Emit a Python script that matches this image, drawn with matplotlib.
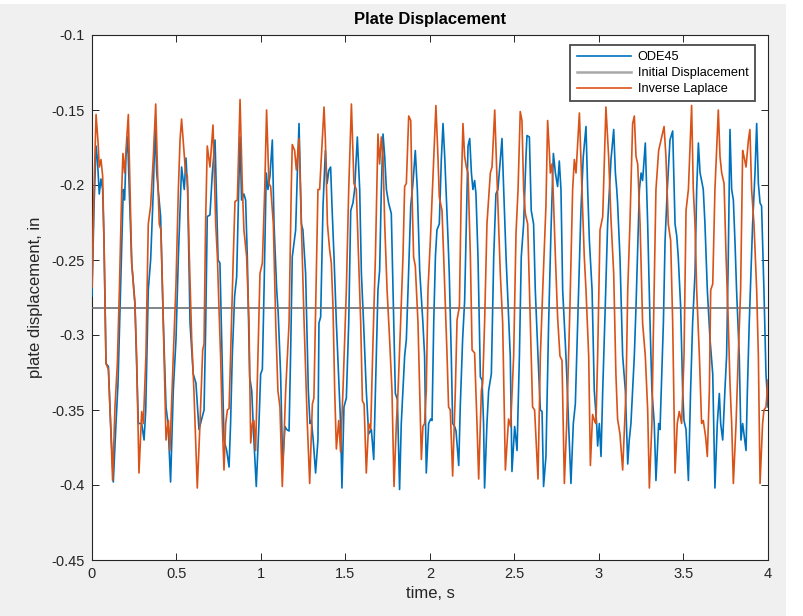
import matplotlib
matplotlib.use("Agg")
import matplotlib.pyplot as plt
from matplotlib.lines import Line2D
from matplotlib.patches import Rectangle

plt.rcParams['font.family'] = ['Liberation Sans', 'DejaVu Sans']

# ---------------- data ----------------
t_ode45 = [
    0.000, 0.012, 0.024, 0.032, 0.043, 0.053, 0.063, 0.071, 0.083, 0.097, 0.110, 0.126, 0.142, 0.154,
    0.166, 0.176, 0.185, 0.193, 0.201, 0.211, 0.221, 0.235, 0.254, 0.274, 0.294, 0.308, 0.318, 0.333,
    0.347, 0.363, 0.373, 0.383, 0.406, 0.422, 0.438, 0.450, 0.465, 0.481, 0.497, 0.511, 0.530, 0.546,
    0.556, 0.566, 0.580, 0.599, 0.615, 0.633,
    0.663, 0.673, 0.682, 0.698, 0.712, 0.728, 0.738, 0.746, 0.757, 0.765, 0.781, 0.797, 0.811, 0.820,
    0.830, 0.844, 0.856, 0.868, 0.876, 0.885, 0.899, 0.909, 0.919, 0.933, 0.945, 0.958, 0.972, 0.988,
    0.998, 1.008, 1.018, 1.031, 1.041, 1.053, 1.067, 1.077, 1.093, 1.102, 1.116, 1.128, 1.142, 1.152,
    1.166, 1.175, 1.185, 1.205, 1.215, 1.225, 1.239, 1.248, 1.264, 1.280, 1.290, 1.298, 1.309, 1.323,
    1.337, 1.343, 1.353, 1.367, 1.381, 1.391, 1.402, 1.412, 1.420, 1.432, 1.446, 1.456, 1.471, 1.479,
    1.491, 1.505, 1.519, 1.531, 1.544, 1.554, 1.570, 1.584, 1.594, 1.607, 1.623, 1.637, 1.653, 1.667,
    1.677, 1.692, 1.702, 1.712, 1.722, 1.732, 1.742, 1.755, 1.771, 1.781, 1.795, 1.807, 1.820, 1.830,
    1.850, 1.860, 1.870, 1.886, 1.899, 1.913, 1.925, 1.939, 1.958, 1.968, 1.978, 1.992, 2.004,
    2.012, 2.022, 2.032, 2.041, 2.055, 2.067, 2.077, 2.087, 2.095, 2.107, 2.114, 2.126, 2.134, 2.146,
    2.154, 2.170, 2.179, 2.193, 2.205, 2.215, 2.225, 2.235, 2.245, 2.254, 2.264, 2.272, 2.284, 2.298,
    2.308, 2.317, 2.323, 2.337, 2.347, 2.363, 2.377, 2.390, 2.402, 2.426, 2.436, 2.450, 2.461, 2.475,
    2.485, 2.501, 2.515, 2.529, 2.540, 2.554, 2.568, 2.574, 2.588, 2.599, 2.613, 2.623, 2.639, 2.653,
    2.663, 2.672, 2.686,
    2.702, 2.716, 2.730, 2.742, 2.755, 2.765, 2.775, 2.785, 2.801, 2.809, 2.820, 2.834, 2.848, 2.860,
    2.874, 2.893, 2.907, 2.923, 2.933, 2.943, 2.959, 2.972, 2.986, 2.992, 3.002, 3.012, 3.022, 3.037,
    3.051, 3.071, 3.087, 3.097, 3.105, 3.110, 3.124, 3.140, 3.156, 3.170, 3.179, 3.189, 3.199, 3.209,
    3.219, 3.239, 3.249, 3.258, 3.274, 3.288, 3.302, 3.313, 3.327, 3.337, 3.353,
    3.361, 3.381, 3.391, 3.404, 3.420, 3.436, 3.450, 3.460, 3.469, 3.483, 3.495, 3.503, 3.515, 3.529,
    3.542, 3.554, 3.568, 3.578, 3.588, 3.598, 3.607, 3.617, 3.627, 3.641, 3.657, 3.673, 3.686, 3.700,
    3.712, 3.720, 3.732, 3.745, 3.755, 3.765, 3.775, 3.785, 3.795, 3.805, 3.814, 3.830, 3.840, 3.850,
    3.858, 3.870, 3.878, 3.889, 3.909, 3.923, 3.933, 3.943, 3.953, 3.962, 3.976, 3.988, 4.000,
]
y_ode45 = [
    -0.274, -0.214, -0.174, -0.183, -0.206, -0.196, -0.203, -0.237, -0.319, -0.321, -0.359, -0.398, -0.359, -0.332,
    -0.281, -0.237, -0.203, -0.210, -0.181, -0.168, -0.205, -0.252, -0.279, -0.359, -0.359, -0.370, -0.350, -0.270,
    -0.250, -0.203, -0.161, -0.192, -0.221, -0.292, -0.348, -0.359, -0.398, -0.337, -0.303, -0.248, -0.188, -0.203,
    -0.182, -0.203, -0.292, -0.326, -0.332, -0.363,
    -0.350, -0.292, -0.221, -0.220, -0.192, -0.170, -0.214, -0.250, -0.252, -0.292, -0.370, -0.377, -0.388, -0.359,
    -0.314, -0.274, -0.261, -0.203, -0.168, -0.210, -0.206, -0.210, -0.248, -0.328, -0.337, -0.370, -0.401, -0.359,
    -0.326, -0.323, -0.270, -0.192, -0.203, -0.194, -0.170, -0.226, -0.270, -0.286, -0.326, -0.386, -0.361, -0.363,
    -0.364, -0.314, -0.248, -0.230, -0.192, -0.159, -0.226, -0.230, -0.259, -0.337, -0.359, -0.357, -0.370, -0.392,
    -0.370, -0.292, -0.288, -0.214, -0.177, -0.199, -0.190, -0.188, -0.214, -0.248, -0.292, -0.319, -0.359, -0.402,
    -0.348, -0.342, -0.292, -0.217, -0.212, -0.203, -0.168, -0.203, -0.259, -0.292, -0.337, -0.366, -0.363, -0.383,
    -0.337, -0.270, -0.257, -0.203, -0.166, -0.181, -0.203, -0.212, -0.219, -0.270, -0.339, -0.343, -0.403, -0.359,
    -0.314, -0.303, -0.270, -0.214, -0.199, -0.177, -0.203, -0.257, -0.292, -0.314, -0.392, -0.359, -0.356,
    -0.357, -0.292, -0.248, -0.230, -0.226, -0.183, -0.159, -0.181, -0.203, -0.237, -0.259, -0.314, -0.359, -0.361,
    -0.364, -0.387, -0.348, -0.303, -0.277, -0.226, -0.174, -0.169, -0.192, -0.203, -0.197, -0.206, -0.248, -0.328,
    -0.330, -0.359, -0.402, -0.359, -0.337, -0.326, -0.248, -0.206, -0.203, -0.169, -0.203, -0.248, -0.277, -0.314,
    -0.391, -0.361, -0.377, -0.314, -0.248, -0.226, -0.181, -0.167, -0.168, -0.217, -0.226, -0.270, -0.314, -0.350,
    -0.351, -0.401, -0.381,
    -0.292, -0.230, -0.179, -0.192, -0.201, -0.184, -0.203, -0.270, -0.306, -0.326, -0.359, -0.399, -0.359, -0.346,
    -0.292, -0.217, -0.181, -0.161, -0.203, -0.237, -0.270, -0.337, -0.359, -0.374, -0.359, -0.381, -0.337, -0.281,
    -0.226, -0.183, -0.163, -0.192, -0.203, -0.212, -0.248, -0.314, -0.337, -0.386, -0.370, -0.359, -0.337, -0.314,
    -0.281, -0.203, -0.192, -0.197, -0.172, -0.226, -0.292, -0.337, -0.359, -0.397, -0.359,
    -0.363, -0.292, -0.237, -0.203, -0.170, -0.164, -0.226, -0.234, -0.248, -0.281, -0.337, -0.357, -0.363, -0.397,
    -0.337, -0.292, -0.259, -0.203, -0.172, -0.192, -0.197, -0.203, -0.226, -0.270, -0.303, -0.326, -0.402, -0.359,
    -0.339, -0.359, -0.370, -0.337, -0.314, -0.248, -0.163, -0.203, -0.210, -0.239, -0.270, -0.314, -0.370, -0.359,
    -0.366, -0.377, -0.337, -0.292, -0.226, -0.192, -0.159, -0.199, -0.212, -0.214, -0.270, -0.326, -0.348,
]

t_laplace = [
    0.000, 0.012, 0.024, 0.036, 0.043, 0.053, 0.063, 0.071, 0.083, 0.097, 0.110, 0.122, 0.136, 0.150,
    0.162, 0.176, 0.183, 0.193, 0.205, 0.215, 0.225, 0.235, 0.254, 0.264, 0.278, 0.294, 0.304, 0.319,
    0.333, 0.347, 0.363, 0.377, 0.388, 0.398, 0.408, 0.422, 0.438, 0.452, 0.461, 0.481, 0.497, 0.511,
    0.521, 0.530, 0.544, 0.554, 0.564, 0.576, 0.590, 0.603, 0.623, 0.639, 0.655,
    0.663, 0.672, 0.682, 0.698, 0.716, 0.732, 0.742, 0.751, 0.761, 0.771, 0.781, 0.791, 0.801, 0.811,
    0.820, 0.836, 0.846, 0.860, 0.876, 0.889, 0.899, 0.915, 0.929, 0.939, 0.949, 0.958, 0.968, 0.982,
    0.994, 1.008, 1.022, 1.033, 1.047, 1.057, 1.073, 1.087, 1.100, 1.112, 1.126, 1.146, 1.166, 1.179,
    1.185, 1.199, 1.209, 1.225, 1.239, 1.254, 1.274, 1.288, 1.304, 1.313, 1.337,
    1.347, 1.373, 1.381, 1.393, 1.406, 1.416, 1.426, 1.436, 1.446, 1.460, 1.471, 1.485, 1.505, 1.519,
    1.535, 1.550, 1.564, 1.574, 1.590, 1.600, 1.610, 1.623, 1.637, 1.649, 1.663, 1.677, 1.692, 1.702,
    1.712, 1.722, 1.732, 1.746, 1.761, 1.775, 1.787, 1.801, 1.811, 1.826, 1.840, 1.850, 1.860, 1.874,
    1.886, 1.893, 1.903, 1.913, 1.929, 1.939, 1.949, 1.958, 1.968, 1.978, 1.988, 2.002,
    2.035, 2.047, 2.055, 2.071, 2.081, 2.101, 2.110, 2.120, 2.134, 2.150, 2.160, 2.174, 2.185, 2.195,
    2.205, 2.215, 2.225, 2.239, 2.249, 2.264, 2.278, 2.288, 2.304, 2.312, 2.323, 2.337, 2.357, 2.367,
    2.383, 2.392, 2.406, 2.416, 2.430, 2.446, 2.465, 2.477, 2.495, 2.509, 2.521, 2.534, 2.544, 2.554,
    2.564, 2.578, 2.594, 2.607, 2.619, 2.639, 2.653, 2.667, 2.686,
    2.696, 2.706, 2.712, 2.722, 2.730, 2.742, 2.755, 2.769, 2.781, 2.795, 2.809, 2.817, 2.828, 2.844,
    2.854, 2.864, 2.884, 2.899, 2.913, 2.923, 2.939, 2.949, 2.962, 2.976, 2.982, 2.992, 3.006, 3.022,
    3.041, 3.057, 3.071, 3.087, 3.100, 3.110, 3.124, 3.140, 3.160, 3.170, 3.183, 3.199, 3.209, 3.219,
    3.229, 3.243, 3.258, 3.274, 3.288, 3.298, 3.313, 3.321, 3.337, 3.353,
    3.385, 3.396, 3.410, 3.424, 3.436, 3.450, 3.463, 3.475, 3.489, 3.503, 3.515, 3.529, 3.548, 3.558,
    3.568, 3.578, 3.594, 3.607, 3.617, 3.631, 3.641, 3.653, 3.661, 3.673, 3.686, 3.706, 3.716, 3.726,
    3.740, 3.752, 3.765, 3.775, 3.785, 3.795, 3.811, 3.824, 3.838, 3.850, 3.858, 3.870, 3.884, 3.893,
    3.903, 3.917, 3.933, 3.943, 3.953, 3.968, 3.976, 3.988, 4.000,
]
y_laplace = [
    -0.268, -0.203, -0.153, -0.172, -0.188, -0.183, -0.194, -0.237, -0.319, -0.323, -0.359, -0.397, -0.348, -0.319,
    -0.270, -0.203, -0.179, -0.192, -0.170, -0.153, -0.203, -0.252, -0.279, -0.314, -0.392, -0.351, -0.359, -0.314,
    -0.226, -0.214, -0.181, -0.146, -0.192, -0.226, -0.230, -0.292, -0.370, -0.357, -0.377, -0.314, -0.266, -0.203,
    -0.170, -0.156, -0.177, -0.192, -0.194, -0.248, -0.303, -0.337, -0.402, -0.359, -0.310,
    -0.306, -0.226, -0.174, -0.188, -0.160, -0.226, -0.248, -0.281, -0.314, -0.359, -0.390, -0.359, -0.350, -0.349,
    -0.314, -0.248, -0.211, -0.210, -0.143, -0.199, -0.230, -0.248, -0.292, -0.372, -0.359, -0.357, -0.377, -0.314,
    -0.259, -0.252, -0.203, -0.150, -0.199, -0.201, -0.226, -0.292, -0.337, -0.348, -0.401, -0.337, -0.292, -0.203,
    -0.173, -0.177, -0.190, -0.169, -0.226, -0.288, -0.359, -0.399, -0.346, -0.342, -0.203,
    -0.203, -0.148, -0.170, -0.226, -0.243, -0.252, -0.281, -0.337, -0.376, -0.357, -0.378, -0.337, -0.270, -0.203,
    -0.146, -0.199, -0.203, -0.237, -0.292, -0.344, -0.346, -0.392, -0.359, -0.363, -0.303, -0.248, -0.166, -0.186,
    -0.168, -0.181, -0.226, -0.270, -0.303, -0.337, -0.401, -0.359, -0.337, -0.292, -0.248, -0.201, -0.199, -0.154,
    -0.157, -0.203, -0.248, -0.254, -0.292, -0.337, -0.383, -0.361, -0.359, -0.337, -0.270, -0.237,
    -0.147, -0.181, -0.208, -0.217, -0.248, -0.314, -0.348, -0.350, -0.394, -0.337, -0.290, -0.281, -0.203, -0.159,
    -0.181, -0.188, -0.192, -0.248, -0.310, -0.312, -0.359, -0.396, -0.337, -0.332, -0.292, -0.226, -0.192, -0.188,
    -0.150, -0.181, -0.226, -0.259, -0.292, -0.390, -0.356, -0.361, -0.314, -0.232, -0.203, -0.151, -0.157, -0.203,
    -0.219, -0.226, -0.292, -0.348, -0.350, -0.396, -0.314, -0.270, -0.214,
    -0.157, -0.177, -0.192, -0.186, -0.208, -0.248, -0.288, -0.314, -0.317, -0.399, -0.359, -0.326, -0.281, -0.203,
    -0.183, -0.192, -0.152, -0.203, -0.248, -0.270, -0.314, -0.387, -0.353, -0.358, -0.359, -0.314, -0.230, -0.221,
    -0.148, -0.181, -0.223, -0.259, -0.326, -0.356, -0.366, -0.390, -0.337, -0.270, -0.226, -0.159, -0.154, -0.181,
    -0.186, -0.226, -0.292, -0.314, -0.350, -0.402, -0.359, -0.303, -0.203, -0.177,
    -0.161, -0.181, -0.226, -0.237, -0.292, -0.392, -0.359, -0.351, -0.359, -0.314, -0.217, -0.203, -0.147, -0.203,
    -0.226, -0.270, -0.314, -0.359, -0.357, -0.368, -0.381, -0.337, -0.270, -0.266, -0.203, -0.150, -0.181, -0.192,
    -0.199, -0.248, -0.292, -0.332, -0.359, -0.399, -0.359, -0.314, -0.270, -0.177, -0.181, -0.188, -0.170, -0.163,
    -0.203, -0.226, -0.270, -0.314, -0.399, -0.359, -0.350, -0.348, -0.330,
]

initial_displacement = -0.2817
t_range = [0.0, 4.0]

x_ticks = [0, 0.5, 1, 1.5, 2, 2.5, 3, 3.5, 4]
x_tick_labels = ["0", "0.5", "1", "1.5", "2", "2.5", "3", "3.5", "4"]
y_ticks = [-0.45, -0.4, -0.35, -0.3, -0.25, -0.2, -0.15, -0.1]
y_tick_labels = ["-0.45", "-0.4", "-0.35", "-0.3", "-0.25", "-0.2", "-0.15", "-0.1"]

series_names = ["ODE45", "Initial Displacement", "Inverse Laplace"]

# ---------------- figure ----------------
fig = plt.figure(figsize=(8.04, 6.16), dpi=100, facecolor='white')
fig.patches.append(Rectangle((0, 0), 786 / 804, 1 - 4 / 616, transform=fig.transFigure,
                             facecolor='#f0f0f0', edgecolor='none', zorder=-10))
ax = fig.add_axes([92 / 804, 1 - 560 / 616, 676 / 804, 525 / 616])
ax.set_facecolor('white')

blue = '#0072BD'
orange = '#D95319'
gray_line = '#6a6f74'

ax.plot(t_ode45, y_ode45, color=blue, lw=1.2, zorder=3)
ax.plot(t_range, [initial_displacement, initial_displacement], color=gray_line, lw=1.2, zorder=4)
ax.plot(t_laplace, y_laplace, color=orange, lw=1.2, zorder=5)

ax.set_xlim(0, 4)
ax.set_ylim(-0.45, -0.1)
ax.set_xticks(x_ticks)
ax.set_xticklabels(x_tick_labels)
ax.set_yticks(y_ticks)
ax.set_yticklabels(y_tick_labels)

axis_color = '#262626'
for s in ax.spines.values():
    s.set_color(axis_color)
    s.set_linewidth(0.8)
ax.tick_params(direction='in', length=5, width=0.7, colors=axis_color,
               labelsize=10.5, top=True, right=True, pad=5)
for lbl in ax.get_xticklabels() + ax.get_yticklabels():
    lbl.set_color('#262626')

ax.set_title("Plate Displacement", fontsize=12, fontweight='bold', color='black', pad=8)
ax.set_xlabel("time, s", fontsize=12, color='#262626', labelpad=4)
ax.set_ylabel("plate displacement, in", fontsize=12, color='#262626', labelpad=6)

handles = [Line2D([], [], color=blue, lw=1.2),
           Line2D([], [], color='#a8a8a8', lw=1.8),
           Line2D([], [], color=orange, lw=1.2)]
leg = ax.legend(handles, series_names, loc='upper right', bbox_to_anchor=(1 - 13 / 676, 1 - 10 / 525),
                borderaxespad=0, fontsize=9.2, handlelength=4.3, handletextpad=0.5,
                labelspacing=0.3, borderpad=0.5, fancybox=False, framealpha=1)
leg.get_frame().set_edgecolor('#4a4a4a')
leg.get_frame().set_linewidth(1.3)
leg.set_zorder(10)

fig.savefig("out.png", dpi=100, facecolor=fig.get_facecolor())
